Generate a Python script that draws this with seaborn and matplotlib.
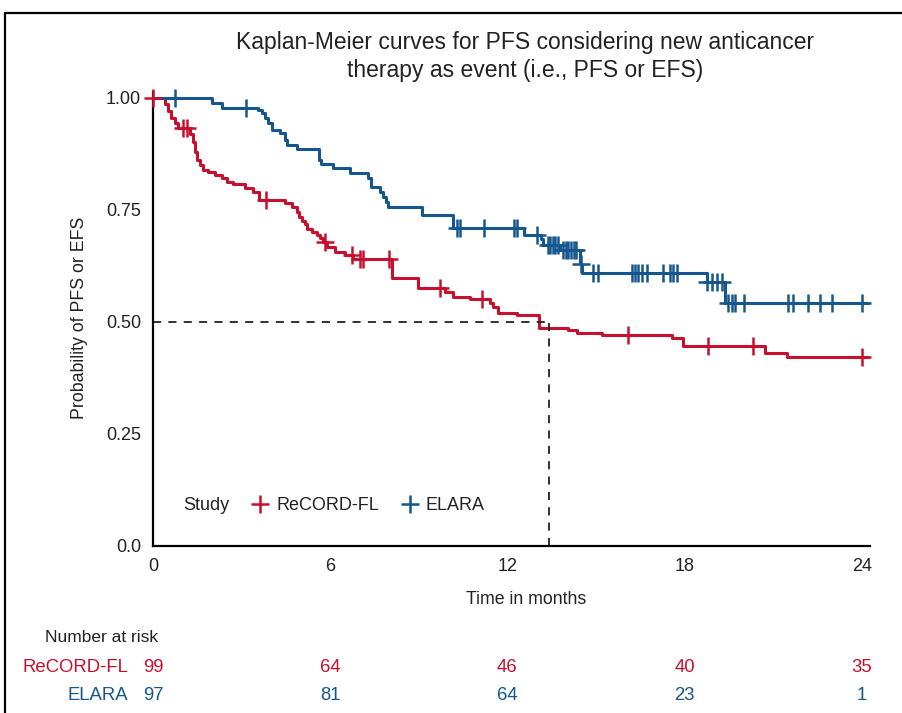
import numpy as np
import pandas as pd
import matplotlib
matplotlib.use("Agg")
import matplotlib.pyplot as plt
import matplotlib.transforms as mtransforms
from matplotlib.lines import Line2D
import seaborn as sns

# ---------------- data ----------------
red_times = [0, 0.4, 0.5, 0.6, 0.75, 0.85, 1.25, 1.35, 1.42, 1.5, 1.6, 1.7, 1.87, 2.1, 2.35,
             2.5, 2.7, 3.1, 3.4, 3.6, 4.47, 4.7, 4.87, 4.93, 5.04, 5.15, 5.21, 5.38, 5.55,
             5.65, 5.75, 5.89, 6.16, 6.5, 6.77, 8.09, 8.97, 9.88, 10.16, 10.73, 11.41,
             11.51, 11.68, 12.32, 13.07, 14.05, 14.35, 15.2, 17.57, 17.94, 20.72, 21.46, 24.2]
red_surv = [1.0, 0.987, 0.971, 0.955, 0.944, 0.933, 0.920, 0.902, 0.879, 0.862, 0.850, 0.839,
            0.835, 0.828, 0.821, 0.812, 0.808, 0.799, 0.790, 0.772, 0.766, 0.757, 0.746,
            0.735, 0.725, 0.718, 0.708, 0.701, 0.694, 0.688, 0.678, 0.667, 0.656, 0.650,
            0.641, 0.598, 0.576, 0.567, 0.556, 0.551, 0.542, 0.533, 0.520, 0.516, 0.487,
            0.482, 0.475, 0.471, 0.464, 0.446, 0.431, 0.422, 0.422]
red_censor = [0.0, 1.02, 1.15, 3.82, 5.82, 6.74, 7.0, 7.1, 8.0, 9.72, 11.14, 16.08, 18.79,
              20.31, 24.0]

blue_times = [0, 2.0, 2.34, 3.55, 3.69, 3.79, 3.89, 4.03, 4.30, 4.47, 4.54, 4.87, 5.62, 5.69,
              6.09, 6.67, 7.28, 7.38, 7.68, 7.79, 7.89, 7.96, 9.10, 10.16, 12.56, 13.15,
              13.19, 13.78, 14.46, 14.53, 18.75, 19.36, 24.2]
blue_surv = [1.0, 0.989, 0.978, 0.973, 0.967, 0.955, 0.944, 0.929, 0.922, 0.906, 0.895, 0.886,
             0.862, 0.853, 0.844, 0.833, 0.821, 0.801, 0.790, 0.779, 0.768, 0.757, 0.739,
             0.710, 0.694, 0.685, 0.672, 0.661, 0.629, 0.609, 0.588, 0.542, 0.542]
blue_censor = [0.74, 3.15, 10.29, 10.39, 11.2, 12.22, 12.32, 13.0, 13.37, 13.45, 13.54, 13.62,
               13.7, 13.88, 13.97, 14.06, 14.15, 14.24, 14.33, 14.49, 14.9, 15.06, 16.22,
               16.32, 16.42, 16.55, 16.72, 17.26, 17.5, 17.6, 17.74, 18.77, 18.92, 19.1,
               19.26, 19.47, 19.6, 19.7, 20.0, 21.5, 21.67, 22.17, 22.58, 22.99, 24.0]

median_time = 13.4
risk_times = [0, 6, 12, 18, 24]
risk_red = [99, 64, 46, 40, 35]
risk_blue = [97, 81, 64, 23, 1]
studies = ["ReCORD-FL", "ELARA"]
x_ticks = [0, 6, 12, 18, 24]
y_ticks = [0.0, 0.25, 0.50, 0.75, 1.00]
y_ticklabels = ["0.0", "0.25", "0.50", "0.75", "1.00"]

RED = "#C8102E"
BLUE = "#15568E"

# ---------------- style ----------------
sns.set_style("white")
plt.rcParams["font.family"] = ["Liberation Sans", "DejaVu Sans"]

fig = plt.figure(figsize=(9.02, 7.13), dpi=100)
ax = fig.add_axes([153 / 902, 1 - 546 / 713, (870 - 153) / 902, (546 - 92) / 713])


def step_value(times, surv, t):
    idx = np.searchsorted(np.asarray(times), t, side="right") - 1
    return np.asarray(surv)[max(idx, 0)]


for times, surv, cens, col in [(red_times, red_surv, red_censor, RED),
                               (blue_times, blue_surv, blue_censor, BLUE)]:
    df = pd.DataFrame({"t": times, "s": surv})
    sns.lineplot(data=df, x="t", y="s", ax=ax, color=col, lw=2.2,
                 drawstyle="steps-post", estimator=None, sort=False)
    cdf = pd.DataFrame({"t": cens, "s": [step_value(times, surv, c) for c in cens]})
    sns.scatterplot(data=cdf, x="t", y="s", ax=ax, color=col, marker="+", s=150,
                    linewidth=1.8, zorder=4)
    ax.collections[-1].set_clip_on(False)

for ln in ax.lines:
    ln.set_clip_on(False)

# median dashed lines
ax.plot([0, median_time], [0.5, 0.5], color="#222222", lw=1.3, dashes=(4.5, 4))
ax.plot([median_time, median_time], [0, 0.5], color="#222222", lw=1.3, dashes=(4.5, 4))

ax.set_xlim(0, 24.28)
ax.set_ylim(0, 1.013)
ax.set_xticks(x_ticks)
ax.set_xticklabels([str(v) for v in x_ticks])
ax.set_yticks(y_ticks)
ax.set_yticklabels(y_ticklabels)
for sp in ["top", "right"]:
    ax.spines[sp].set_visible(False)
for sp in ["left", "bottom"]:
    ax.spines[sp].set_color("black")
    ax.spines[sp].set_linewidth(1.6)
ax.tick_params(axis="both", direction="out", length=4.5, width=1.5, color="black",
               labelsize=13, labelcolor="#222222", pad=4)

ax.set_xlabel("Time in months", fontsize=12.8, color="#222222")
ax.set_ylabel("Probability of PFS or EFS", fontsize=12.8, color="#222222")
ax.xaxis.set_label_coords((526 - 153) / 717, -(600 - 546) / 454)
ax.yaxis.set_label_coords(-(153 - 80) / 717, (546 - 318) / 454)
ax.xaxis.label.set_va("center")
ax.yaxis.label.set_va("center")

# title
fig.text(525 / 902, 1 - 42 / 713, "Kaplan-Meier curves for PFS considering new anticancer",
         ha="center", va="center", fontsize=16.5, color="#222222")
fig.text(525 / 902, 1 - 70 / 713, "therapy as event (i.e., PFS or EFS)",
         ha="center", va="center", fontsize=16.5, color="#222222")

# legend
ax.text(30 / 717, 40 / 454, "Study", transform=ax.transAxes, ha="left", va="center",
        fontsize=13, color="#222222")
handles = [Line2D([], [], color=RED, marker="+", linestyle="none", markersize=13,
                  markeredgewidth=1.8),
           Line2D([], [], color=BLUE, marker="+", linestyle="none", markersize=13,
                  markeredgewidth=1.8)]
ax.legend(handles, studies, ncol=2, frameon=False, loc="center left",
          bbox_to_anchor=(98 / 717, 40 / 454), handlelength=1.0, handletextpad=0.4,
          columnspacing=1.2, borderpad=0, borderaxespad=0, fontsize=13,
          labelcolor="#222222")

# number at risk table
blend = mtransforms.blended_transform_factory(ax.transData, fig.transFigure)
fig.text(45 / 902, 1 - 638 / 713, "Number at risk", ha="left", va="center",
         fontsize=12.5, color="#222222")
for lab, counts, col, ypix in [(studies[0], risk_red, RED, 668),
                               (studies[1], risk_blue, BLUE, 695)]:
    fig.text(128 / 902, 1 - ypix / 713, lab, ha="right", va="center", fontsize=13.3,
             color=col)
    for t, n in zip(risk_times, counts):
        ax.text(t, 1 - ypix / 713, str(n), transform=blend, ha="center", va="center",
                fontsize=13.3, color=col, clip_on=False)

# outer frame (top and left)
fig.add_artist(Line2D([5 / 902, 1.0], [1 - 13 / 713, 1 - 13 / 713],
                      transform=fig.transFigure, color="black", lw=1.6))
fig.add_artist(Line2D([5 / 902, 5 / 902], [0, 1 - 13 / 713],
                      transform=fig.transFigure, color="black", lw=1.6))

fig.savefig("out.png", dpi=100)
